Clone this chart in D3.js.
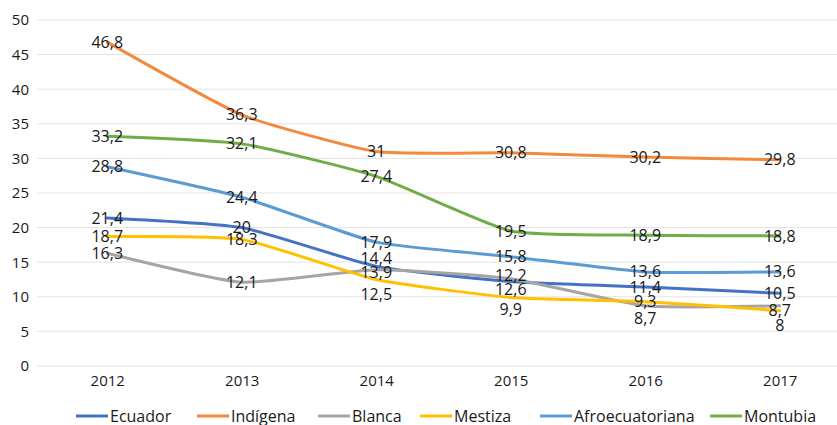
<!DOCTYPE html>
<html>
<head>
<meta charset="utf-8">
<script src="https://cdn.jsdelivr.net/npm/d3@7"></script>
<style>
  body { margin: 0; background: #fff; }
  svg text { font-family: "Open Sans", "Noto Sans", sans-serif; fill: #1a1a1a; }
</style>
</head>
<body>
<svg id="chart" width="837" height="425"></svg>
<script>
const years = ['2012', '2013', '2014', '2015', '2016', '2017'];
const seriesNames = ['Ecuador', 'Indígena', 'Blanca', 'Mestiza', 'Afroecuatoriana', 'Montubia'];
const ecuador = [21.4, 20, 14.4, 12.2, 11.4, 10.5];
const indigena = [46.8, 36.3, 31, 30.8, 30.2, 29.8];
const blanca = [16.3, 12.1, 13.9, 12.6, 8.7, 8.7];
const mestiza = [18.7, 18.3, 12.5, 9.9, 9.3, 8];
const afro = [28.8, 24.4, 17.9, 15.8, 13.6, 13.6];
const montubia = [33.2, 32.1, 27.4, 19.5, 18.9, 18.8];
const yTicks = [0, 5, 10, 15, 20, 25, 30, 35, 40, 45, 50];

const colors = ['#4472C4', '#F08A3E', '#A5A5A5', '#FFC000', '#5B9BD5', '#70AD47'];

// label nudges (px, vertical) where Excel moved labels off the point
const labelNudge = {
    'Ecuador-2014': -8, 'Ecuador-2015': -6,
    'Blanca-2014': 3, 'Blanca-2015': 11, 'Blanca-2016': 13, 'Blanca-2017': 5,
    'Mestiza-2014': 15, 'Mestiza-2015': 12, 'Mestiza-2017': 15
};

const allValues = [ecuador, indigena, blanca, mestiza, afro, montubia];
const series = seriesNames.map((name, i) => ({
    name: name,
    color: colors[i],
    values: allValues[i].map((v, j) => ({ year: years[j], value: v }))
}));

const svg = d3.select('#chart');
const plotLeft = 37, plotRight = 837;

const x = d3.scalePoint()
    .domain(years)
    .range([40, 847])
    .padding(0.5);

const y = d3.scaleLinear()
    .domain([0, 50])
    .range([366, 20]);

// gridlines
svg.append('g')
    .selectAll('line')
    .data(yTicks)
    .join('line')
    .attr('x1', plotLeft)
    .attr('x2', plotRight)
    .attr('y1', d => y(d))
    .attr('y2', d => y(d))
    .attr('stroke', '#e3e3e3')
    .attr('stroke-width', 1);

// y tick labels
const yAxis = svg.append('g')
    .attr('transform', `translate(${plotLeft - 8},0)`)
    .call(d3.axisLeft(y).tickValues(yTicks).tickSize(0).tickPadding(0));
yAxis.select('.domain').remove();
yAxis.selectAll('text')
    .style('font-size', '15px')
    .style('font-family', '"Open Sans", sans-serif')
    .attr('fill', '#333');

// x tick labels
const xAxis = svg.append('g')
    .attr('transform', `translate(0,${y(0)})`)
    .call(d3.axisBottom(x).tickSize(0).tickPadding(9));
xAxis.select('.domain').remove();
xAxis.selectAll('text')
    .style('font-size', '15px')
    .style('font-family', '"Open Sans", sans-serif')
    .attr('fill', '#333');

// gentle smoothing, between straight segments and a full Catmull-Rom
const line = d3.line()
    .x(d => x(d.year))
    .y(d => y(d.value))
    .curve(d3.curveCardinal.tension(0.5));

svg.append('g')
    .selectAll('path')
    .data(series)
    .join('path')
    .attr('d', d => line(d.values))
    .attr('fill', 'none')
    .attr('stroke', d => d.color)
    .attr('stroke-width', 3)
    .attr('stroke-linecap', 'round')
    .attr('stroke-linejoin', 'round');

// data labels
const labels = svg.append('g');
series.forEach(s => {
    labels.selectAll(null)
        .data(s.values)
        .join('text')
        .attr('x', d => x(d.year))
        .attr('y', d => y(d.value) + (labelNudge[s.name + '-' + d.year] || 0))
        .attr('dy', '0.35em')
        .attr('text-anchor', 'middle')
        .style('font-size', '16px')
        .text(d => String(d.value).replace('.', ','));
});

// legend
const legendX = [76, 197, 318, 420, 540, 710];
const legend = svg.append('g')
    .selectAll('g')
    .data(series)
    .join('g')
    .attr('transform', (d, i) => `translate(${legendX[i]},416)`);

legend.append('line')
    .attr('x1', 0)
    .attr('x2', 32)
    .attr('stroke', d => d.color)
    .attr('stroke-width', 3);

legend.append('text')
    .attr('x', 34)
    .attr('dy', '0.35em')
    .style('font-size', '16px')
    .style('font-family', '"Liberation Sans Narrow", "Open Sans", sans-serif')
    .text(d => d.name);
</script>
</body>
</html>
